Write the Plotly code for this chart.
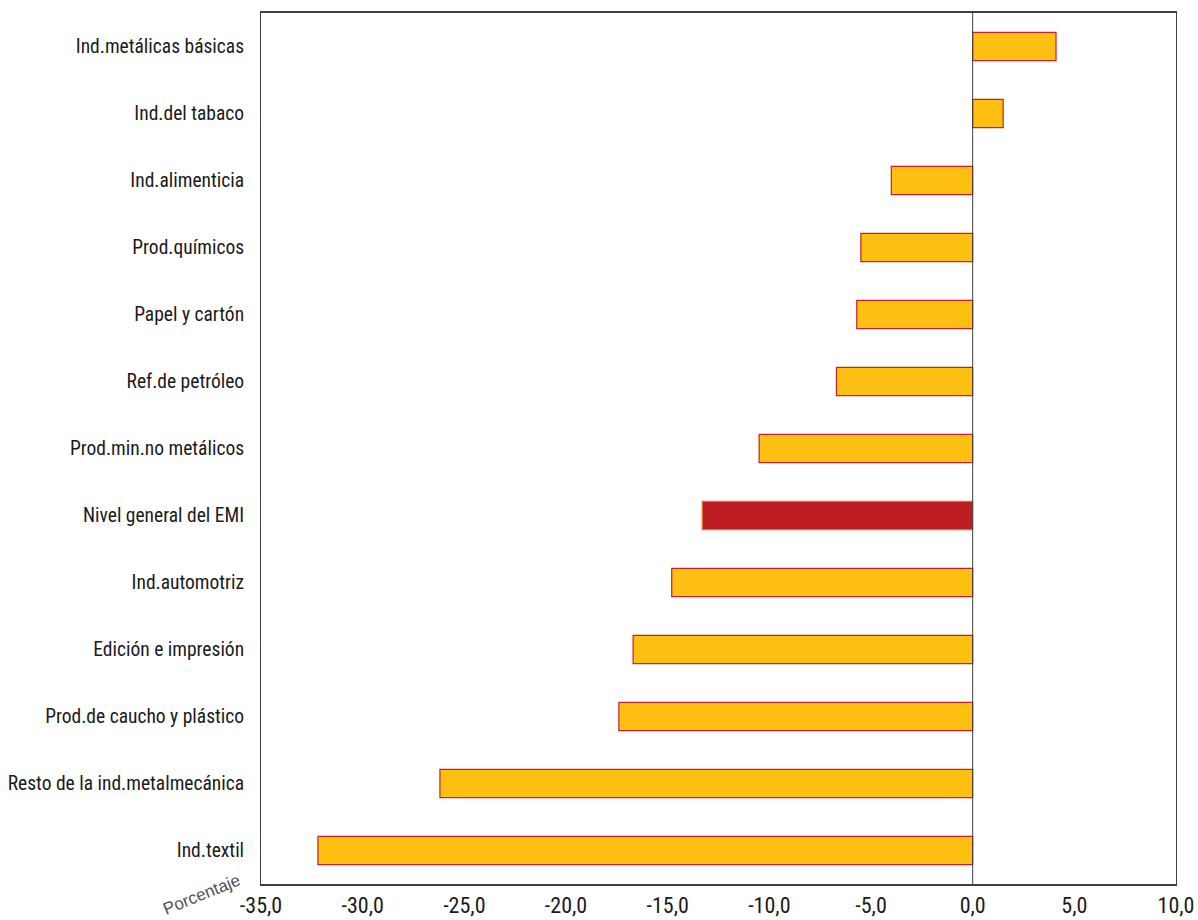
import plotly.graph_objects as go

categories = [
    "Ind.metálicas básicas", "Ind.del tabaco", "Ind.alimenticia", "Prod.químicos",
    "Papel y cartón", "Ref.de petróleo", "Prod.min.no metálicos", "Nivel general del EMI",
    "Ind.automotriz", "Edición e impresión", "Prod.de caucho y plástico",
    "Resto de la ind.metalmecánica", "Ind.textil",
]
values = [4.1, 1.5, -4.0, -5.5, -5.7, -6.7, -10.5, -13.3, -14.8, -16.7, -17.4, -26.2, -32.2]
tick_vals = [-35, -30, -25, -20, -15, -10, -5, 0, 5, 10]
tick_text = ["-35,0", "-30,0", "-25,0", "-20,0", "-15,0", "-10,0", "-5,0", "0,0", "5,0", "10,0"]

highlight = "Nivel general del EMI"
fill = ["#BE1E23" if c == highlight else "#FDBF12" for c in categories]
edge = ["#E0702A" if c == highlight else "#C8202A" for c in categories]

FONT = "Liberation Sans Narrow, Arial Narrow, Roboto Condensed, Liberation Sans, sans-serif"

fig = go.Figure(go.Bar(
    x=values, y=categories, orientation="h",
    marker=dict(color=fill, line=dict(color=edge, width=1.2)),
    width=0.42,
))

fig.update_layout(
    width=1198, height=920,
    margin=dict(l=261, r=22, t=13, b=36),
    paper_bgcolor="white", plot_bgcolor="white",
    showlegend=False,
    font=dict(family=FONT, color="#1a1a1a"),
    shapes=[dict(type="line", xref="x", yref="paper", x0=0, x1=0, y0=0, y1=1,
                 line=dict(color="#404040", width=1))],
    annotations=[dict(text="Porcentaje", xref="paper", yref="paper", x=-0.0645, y=-0.012,
                      xanchor="center", yanchor="middle", borderpad=0,
                      showarrow=False, textangle=-22,
                      font=dict(size=17, color="#505050", family="Liberation Sans, Arial, sans-serif"))],
)
fig.update_xaxes(
    range=[-35, 10], tickvals=tick_vals, ticktext=tick_text, automargin=False,
    showgrid=False, zeroline=False, showline=True, linecolor="#404040", linewidth=1.5,
    mirror=True, ticks="", tickfont=dict(size=22, family=FONT), ticklabelstandoff=1,
)
fig.update_yaxes(
    categoryorder="array", categoryarray=categories[::-1], automargin=False,
    showgrid=False, zeroline=False, showline=True, linecolor="#404040", linewidth=1,
    mirror=True, ticks="", tickfont=dict(size=19.5, family=FONT), ticklabelstandoff=12,
)
fig.write_html("out.html")
